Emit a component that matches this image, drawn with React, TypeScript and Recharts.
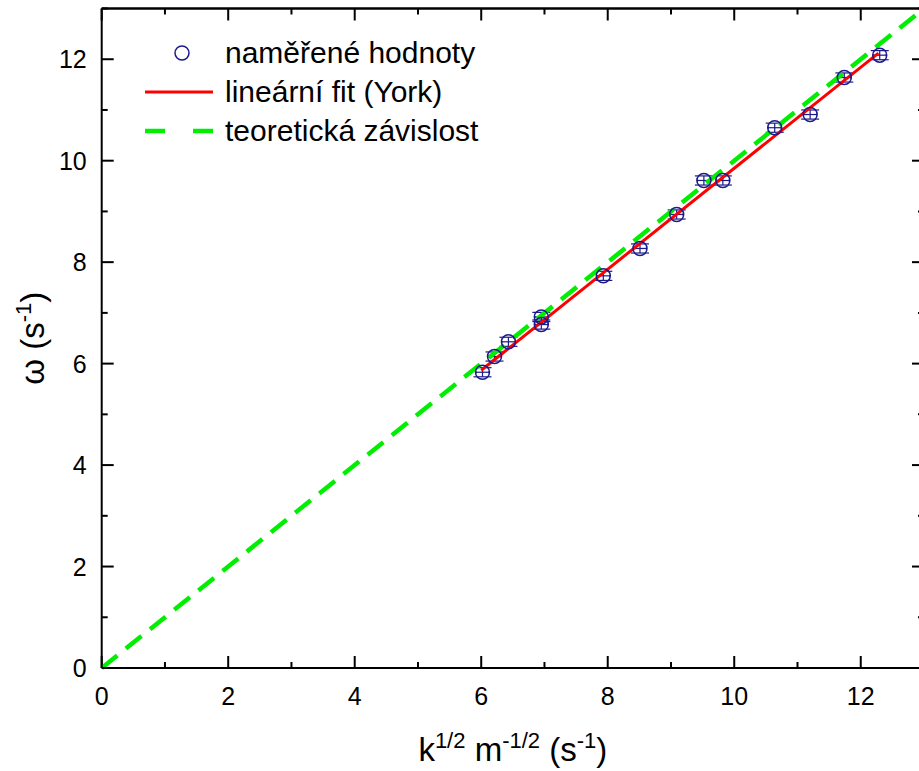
import { ScatterChart, Scatter, XAxis, YAxis, ErrorBar, Label } from "recharts";

// naměřené hodnoty
const sqrtKm = [6.02, 6.21, 6.43, 6.95, 6.95, 7.93, 8.51, 9.09, 9.52, 9.82, 10.64, 11.2, 11.74, 12.3];
const omega = [5.83, 6.14, 6.43, 6.92, 6.77, 7.73, 8.27, 8.94, 9.61, 9.61, 10.65, 10.91, 11.64, 12.08];
const errX = [0.1, 0.1, 0.1, 0.1, 0.1, 0.1, 0.1, 0.1, 0.1, 0.1, 0.1, 0.1, 0.1, 0.1];
const errY = [0.09, 0.09, 0.09, 0.09, 0.09, 0.09, 0.09, 0.09, 0.09, 0.09, 0.09, 0.09, 0.09, 0.09];

// lineární fit (York) a teoretická závislost y = x
const fitX = [6.0, 12.28];
const fitOmega = [5.87, 12.12];
const theoryX = [0, 13];
const theoryOmega = [0, 13];

// horní okraj rámečku
const frameX = [0, 13];
const frameY = [13, 13];

const axisTicks = [0, 1, 2, 3, 4, 5, 6, 7, 8, 9, 10, 11, 12, 13];
const legendLabels = ["naměřené hodnoty", "lineární fit (York)", "teoretická závislost"];

const FONT = '"Liberation Sans", Arial, sans-serif';
const BLUE = "#1a1a8c";
const RED = "#ff0000";
const GREEN = "#00ee00";
const SHIFT = 20; // chart svg is pulled up by this much
const PLOT_TOP = 8.5 + SHIFT;

const points = sqrtKm.map((x, i) => ({ x, y: omega[i], ex: errX[i], ey: errY[i] }));
const fit = fitX.map((x, i) => ({ x, y: fitOmega[i] }));
const theory = theoryX.map((x, i) => ({ x, y: theoryOmega[i] }));
const frame = frameX.map((x, i) => ({ x, y: frameY[i] }));

const tickLen = (v: number) => (v % 2 === 0 ? 12 : 6);

// ticks pointing into the plot (bottom + mirrored top)
const BottomTick = (props: any) => {
  const { x, y, payload } = props;
  const v = payload.value;
  return (
    <g>
      <line x1={x} y1={y} x2={x} y2={y - tickLen(v)} stroke="#000" strokeWidth={2} />
      <line x1={x} y1={PLOT_TOP} x2={x} y2={PLOT_TOP + tickLen(v)} stroke="#000" strokeWidth={2} />
      {v % 2 === 0 && (
        <text x={x} y={y + 37} textAnchor="middle" fontSize={25} fontFamily={FONT} fill="#000">
          {v}
        </text>
      )}
    </g>
  );
};

const LeftTick = (props: any) => {
  const { x, y, payload } = props;
  const v = payload.value;
  return (
    <g>
      <line x1={x} y1={y} x2={x + tickLen(v)} y2={y} stroke="#000" strokeWidth={2} />
      {v % 2 === 0 && (
        <text x={x - 15} y={y + 9} textAnchor="end" fontSize={25} fontFamily={FONT} fill="#000">
          {v}
        </text>
      )}
    </g>
  );
};

const RightTick = (props: any) => {
  const { x, y, payload } = props;
  return <line x1={x} y1={y} x2={x - tickLen(payload.value)} y2={y} stroke="#000" strokeWidth={2} />;
};

const XTitle = (props: any) => {
  const { x, y, width } = props.viewBox;
  return (
    <text x={x + width / 2} y={y + 93} textAnchor="middle" fontSize={33} fontFamily={FONT} fill="#000">
      k
      <tspan fontSize={22} dy={-13}>1/2</tspan>
      <tspan dy={13}> m</tspan>
      <tspan fontSize={22} dy={-13}>-1/2</tspan>
      <tspan dy={13}> (s</tspan>
      <tspan fontSize={22} dy={-13}>-1</tspan>
      <tspan dy={13}>)</tspan>
    </text>
  );
};

const YTitle = (props: any) => {
  const { y, height } = props.viewBox;
  const cx = 44;
  const cy = y + height / 2;
  return (
    <text
      x={cx}
      y={cy}
      transform={`rotate(-90 ${cx} ${cy})`}
      textAnchor="middle"
      fontSize={33}
      fontFamily={FONT}
      fill="#000"
    >
      ω (s
      <tspan fontSize={22} dy={-13}>-1</tspan>
      <tspan dy={13}>)</tspan>
    </text>
  );
};

const LegendBox = () => (
  <svg width={340} height={120} style={{ position: "absolute", left: 145, top: 33, overflow: "visible" }}>
    <circle cx={37} cy={20} r={7} fill="none" stroke={BLUE} strokeWidth={1.5} />
    <line x1={0} y1={59} x2={68} y2={59} stroke={RED} strokeWidth={3} />
    <line x1={0} y1={98} x2={68} y2={98} stroke={GREEN} strokeWidth={4.5} strokeDasharray="20 28" />
    {legendLabels.map((t, i) => (
      <text key={t} x={80} y={30 + i * 39} fontSize={30} fontFamily={FONT} fill="#000">
        {t}
      </text>
    ))}
  </svg>
);

export default function App() {
  return (
    <div style={{ position: "absolute", left: 0, top: 0, width: 919, height: 771, overflow: "hidden", background: "#fff" }}>
      <div style={{ position: "absolute", left: 0, top: -SHIFT }}>
        <ScatterChart width={940} height={771 + SHIFT} margin={{ top: PLOT_TOP, right: 15, bottom: 0, left: 0 }}>
          <XAxis
            xAxisId="b"
            type="number"
            dataKey="x"
            domain={[0, 13]}
            ticks={axisTicks}
            interval={0}
            height={103}
            tickSize={0}
            tickMargin={0}
            tickLine={false}
            axisLine={{ stroke: "#000", strokeWidth: 2 }}
            tick={<BottomTick />}
          >
            <Label content={<XTitle />} />
          </XAxis>
          <YAxis
            yAxisId="l"
            type="number"
            dataKey="y"
            domain={[0, 13]}
            ticks={axisTicks}
            interval={0}
            width={101.7}
            tickSize={0}
            tickMargin={0}
            tickLine={false}
            axisLine={{ stroke: "#000", strokeWidth: 2 }}
            tick={<LeftTick />}
          >
            <Label content={<YTitle />} />
          </YAxis>
          <YAxis
            yAxisId="r"
            orientation="right"
            type="number"
            dataKey="y"
            domain={[0, 13]}
            ticks={axisTicks}
            interval={0}
            width={1}
            tickSize={0}
            tickMargin={0}
            tickLine={false}
            axisLine={{ stroke: "#000", strokeWidth: 2 }}
            tick={<RightTick />}
          />
          <Scatter
            xAxisId="b"
            yAxisId="l"
            data={frame}
            line={{ stroke: "#000", strokeWidth: 2.5 }}
            shape={() => <g />}
            isAnimationActive={false}
          />
          <Scatter
            xAxisId="b"
            yAxisId="l"
            data={fit}
            line={{ stroke: RED, strokeWidth: 3 }}
            shape={() => <g />}
            isAnimationActive={false}
          />
          <Scatter
            xAxisId="b"
            yAxisId="l"
            data={theory}
            line={{ stroke: GREEN, strokeWidth: 4.5, strokeDasharray: "20 11" }}
            shape={() => <g />}
            isAnimationActive={false}
          />
          <Scatter xAxisId="b" yAxisId="r" data={theory} shape={() => <g />} isAnimationActive={false} />
          <Scatter
            xAxisId="b"
            yAxisId="l"
            data={points}
            shape={(p: any) => <circle cx={p.cx} cy={p.cy} r={7} fill="none" stroke={BLUE} strokeWidth={1.5} />}
            isAnimationActive={false}
          >
            <ErrorBar dataKey="ey" direction="y" width={9} stroke={BLUE} strokeWidth={1.2} />
            <ErrorBar dataKey="ex" direction="x" width={1} stroke={BLUE} strokeWidth={1.2} />
          </Scatter>
        </ScatterChart>
      </div>
      <LegendBox />
    </div>
  );
}
